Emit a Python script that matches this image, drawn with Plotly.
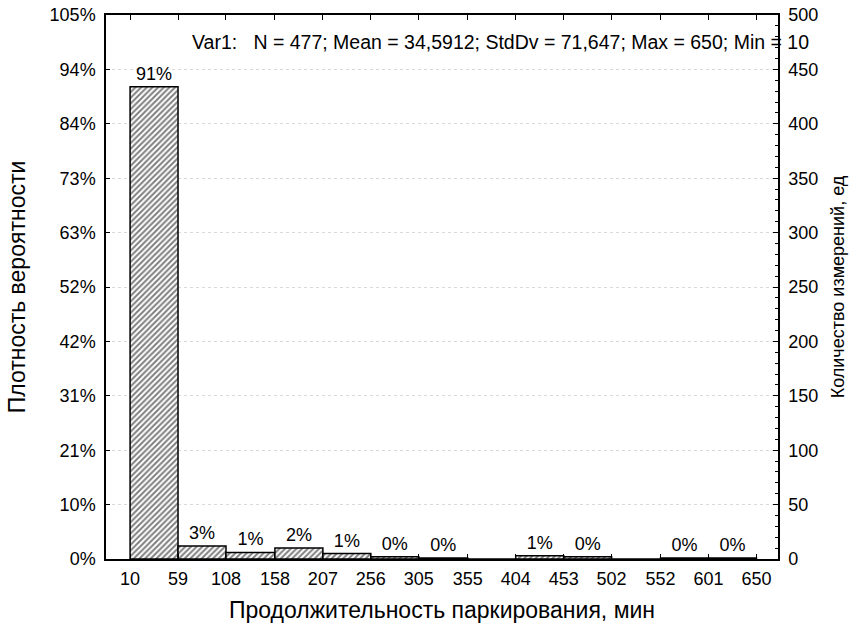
import plotly.graph_objects as go

# Data
bin_edges = [10, 59, 108, 158, 207, 256, 305, 355, 404, 453, 502, 552, 601, 650]
counts = [434, 12, 6, 10, 5, 2, 1, 0, 3, 2, 0, 1, 1]
total = 477
count_ticks = [0, 50, 100, 150, 200, 250, 300, 350, 400, 450, 500]
pct_tick_labels = ["0%", "10%", "21%", "31%", "42%", "52%", "63%", "73%", "84%", "94%", "105%"]
stats_text = "Var1:   N = 477; Mean = 34,5912; StdDv = 71,647; Max = 650; Min = 10"

centers = [(a + b) / 2 for a, b in zip(bin_edges[:-1], bin_edges[1:])]
widths = [b - a for a, b in zip(bin_edges[:-1], bin_edges[1:])]
labels = [f"{round(c / total * 100):.0f}%" if c > 0 else "" for c in counts]

FONT = "Liberation Sans, Arial, sans-serif"

fig = go.Figure()
fig.add_trace(go.Bar(
    x=centers, y=counts, width=widths,
    text=labels, textposition="outside", cliponaxis=False,
    textfont=dict(size=18, color="black", family=FONT),
    marker=dict(color="white", line=dict(color="black", width=1.5),
                pattern=dict(shape="/", fgcolor="black", bgcolor="white", size=4, solidity=0.5)),
    showlegend=False, hoverinfo="skip",
))
fig.add_trace(go.Scatter(x=[bin_edges[0], bin_edges[-1]], y=[0, 0], yaxis="y2", mode="lines",
                         line=dict(width=0), showlegend=False, hoverinfo="skip"))

fig.update_layout(
    width=859, height=639,
    margin=dict(l=106, r=81, t=15, b=80, autoexpand=False),
    paper_bgcolor="white", plot_bgcolor="white",
    font=dict(family=FONT, size=18, color="black"),
    xaxis=dict(range=[-14.6, 672], tickvals=bin_edges, ticktext=[str(v) for v in bin_edges],
               ticks="inside", ticklen=5, tickcolor="black", showline=True, linecolor="black",
               linewidth=1.5, mirror="ticks", showgrid=False, zeroline=False, automargin=False,
               tickfont=dict(size=18), ticklabelstandoff=3,
               title=dict(text="Продолжительность паркирования, мин", font=dict(size=23), standoff=14)),
    yaxis=dict(range=[0, 500], tickvals=count_ticks, ticktext=pct_tick_labels,
               ticks="inside", ticklen=4, tickcolor="black", showline=True, linecolor="black",
               linewidth=1.5, mirror=True, showgrid=True, gridcolor="#d9d9d9", griddash="dot",
               zeroline=False, automargin=False, tickfont=dict(size=18), ticklabelstandoff=5,
               title=dict(text="Плотность вероятности", font=dict(size=23), standoff=18)),
    yaxis2=dict(range=[0, 500], tickvals=count_ticks, overlaying="y", side="right",
                ticks="inside", ticklen=5, tickcolor="black", showline=True, linecolor="black",
                linewidth=1.5, showgrid=False, zeroline=False, automargin=False,
                tickfont=dict(size=18), ticklabelstandoff=5,
                minor=dict(ticks="inside", ticklen=3, dtick=10, tickcolor="black"),
                title=dict(text="Количество измерений, ед", font=dict(size=18), standoff=14)),
    annotations=[dict(text=stats_text, xref="paper", yref="paper", x=0.125, y=0.95,
                      xanchor="left", yanchor="middle", showarrow=False,
                      font=dict(size=19.5, family=FONT, color="black"))],
)

fig.write_html("out.html", config={"displayModeBar": False},
               post_script="document.body.style.margin='0';")
